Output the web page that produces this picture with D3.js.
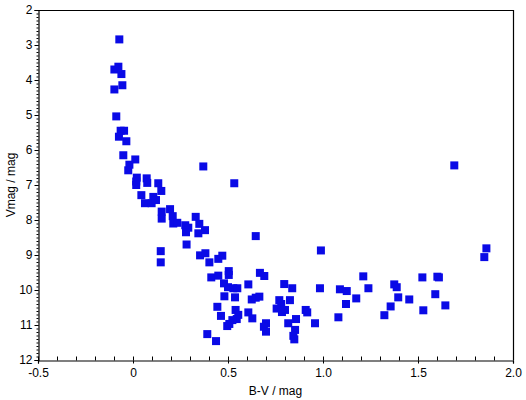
<!DOCTYPE html>
<html>
<head>
<meta charset="utf-8">
<script src="https://cdn.jsdelivr.net/npm/d3@7"></script>
<style>
  html, body { margin: 0; padding: 0; background: #fff; }
  svg { display: block; }
  text { font-family: "Liberation Sans", Arial, sans-serif; fill: #000; }
</style>
</head>
<body>
<script>
// ---- data (B-V colour index, V magnitude) ----
const bv = [
  -0.072, -0.077, -0.098, -0.061, -0.056, -0.098, -0.088, -0.065, -0.047, -0.074,
  -0.035, -0.051, 0.012, -0.019, -0.025, 0.020, 0.017, 0.017, 0.072, 0.075,
  0.133, 0.149, 0.370, 0.533, 0.044, 0.107, 0.063, 0.098, 0.121, 0.151,
  0.151, 0.195, 0.209, 0.212, 0.233, 0.275, 0.291, 0.279, 0.330, 0.349,
  0.344, 0.379, 0.282, 0.146, 0.146, 0.353, 0.381, 0.402, 0.449, 0.470,
  0.504, 0.504, 0.412, 0.449, 0.646, 0.989, 0.479, 0.500, 0.528, 0.549,
  0.607, 0.668, 0.691, 0.481, 0.537, 0.625, 0.646, 0.665, 0.444, 0.540,
  0.607, 0.463, 0.554, 0.546, 0.523, 0.628, 0.496, 0.507, 0.391, 0.437,
  0.796, 0.838, 0.984, 1.089, 1.125, 1.121, 0.770, 0.780, 0.826, 0.756,
  0.784, 0.800, 0.909, 0.917, 0.858, 0.817, 0.958, 1.081, 0.700, 0.689,
  0.700, 0.853, 0.844, 0.849, 1.212, 1.239, 1.175, 1.323, 1.356, 1.375,
  1.388, 1.396, 1.454, 1.523, 1.528, 1.591, 1.602, 1.610, 1.644, 1.849,
  1.860, 1.691
];
const vmag = [
  2.84, 3.62, 3.70, 3.83, 4.15, 4.27, 5.04, 5.45, 5.45, 5.62,
  5.75, 6.15, 6.27, 6.42, 6.58, 6.79, 6.90, 7.00, 6.81, 6.94,
  6.95, 7.17, 6.47, 6.95, 7.29, 7.34, 7.52, 7.52, 7.43, 7.76,
  7.96, 7.69, 7.89, 8.10, 8.08, 8.15, 8.22, 8.35, 7.91, 8.11,
  8.38, 8.29, 8.70, 8.89, 9.21, 9.01, 8.95, 9.21, 9.11, 9.02,
  9.46, 9.57, 9.64, 9.59, 8.46, 8.87, 9.81, 9.92, 9.95, 9.95,
  9.84, 9.51, 9.60, 10.18, 10.21, 10.27, 10.22, 10.19, 10.48, 10.57,
  10.64, 10.74, 10.71, 10.83, 10.86, 10.81, 11.03, 10.97, 11.26, 11.46,
  9.83, 9.95, 9.95, 9.98, 10.03, 10.40, 10.29, 10.40, 10.29, 10.53,
  10.63, 10.57, 10.57, 10.64, 10.83, 10.95, 10.95, 10.78, 10.95, 11.05,
  11.19, 11.14, 11.31, 11.41, 9.61, 9.95, 10.24, 10.72, 10.47, 9.84,
  9.92, 10.21, 10.27, 9.64, 10.58, 10.12, 9.62, 9.64, 10.44, 9.06,
  8.81, 6.44
];
const xTickLabels = ["-0.5", "0", "0.5", "1.0", "1.5", "2.0"];
const yTickLabels = ["2", "3", "4", "5", "6", "7", "8", "9", "10", "11", "12"];
const xLabel = "B-V / mag";
const yLabel = "Vmag / mag";

// ---- layout ----
const W = 526, H = 400;
const L = 38, R = 513, T = 10, B = 360;
const svg = d3.select("body").append("svg").attr("width", W).attr("height", H);

const x = d3.scaleLinear().domain([-0.5, 2.0]).range([L, R]);
const y = d3.scaleLinear().domain([2, 12]).range([T, B]);

const xMajor = xTickLabels.map(Number);
const yMajor = yTickLabels.map(Number);
const xMinor = d3.range(-5, 21).map(i => i / 10);
const yMinor = d3.range(20, 121).map(i => i / 10);

// frame (top and right)
svg.append("line").attr("x1", L).attr("x2", R).attr("y1", T + 0.5).attr("y2", T + 0.5)
  .attr("stroke", "#000").attr("stroke-width", 1.2);
svg.append("line").attr("x1", R + 0.5).attr("x2", R + 0.5).attr("y1", T).attr("y2", B)
  .attr("stroke", "#000").attr("stroke-width", 1.2);

// x axis
const gx = svg.append("g").attr("transform", `translate(0,${B + 0.5})`);
gx.append("g").call(d3.axisTop(x).tickValues(xMinor).tickSize(4).tickFormat(""))
  .call(g => g.select(".domain").remove())
  .call(g => g.selectAll("line").attr("stroke", "#000"));
gx.append("g").call(d3.axisBottom(x).tickValues(xMajor).tickSize(3).tickPadding(5)
    .tickFormat((d, i) => xTickLabels[i]))
  .call(g => g.select(".domain").attr("stroke", "#000").attr("stroke-width", 1.2))
  .call(g => g.selectAll("line").attr("stroke", "#000"))
  .call(g => g.selectAll("text").style("font-size", "12px").attr("fill", "#000")
    .style("font-family", "'Liberation Sans', Arial, sans-serif"));

// y axis
const gy = svg.append("g").attr("transform", `translate(${L + 0.5},0)`);
gy.append("g").call(d3.axisLeft(y).tickValues(yMinor).tickSize(2).tickFormat(""))
  .call(g => g.select(".domain").remove())
  .call(g => g.selectAll("line").attr("stroke", "#000"));
gy.append("g").call(d3.axisLeft(y).tickValues(yMajor).tickSize(4).tickPadding(2)
    .tickFormat((d, i) => yTickLabels[i]))
  .call(g => g.select(".domain").attr("stroke", "#000").attr("stroke-width", 1.2))
  .call(g => g.selectAll("line").attr("stroke", "#000"))
  .call(g => g.selectAll("text").style("font-size", "12px").attr("fill", "#000")
    .style("font-family", "'Liberation Sans', Arial, sans-serif"));

// axis titles
svg.append("text").attr("x", (L + R) / 2).attr("y", 395)
  .attr("text-anchor", "middle").style("font-size", "12px").text(xLabel);
svg.append("text").attr("transform", `translate(15,${(T + B) / 2}) rotate(-90)`)
  .attr("text-anchor", "middle").style("font-size", "12px").text(yLabel);

// points
const pts = bv.map((d, i) => [d, vmag[i]]);
const s = 8;
svg.append("g").selectAll("rect").data(pts).join("rect")
  .attr("x", d => x(d[0]) - s / 2)
  .attr("y", d => y(d[1]) - s / 2)
  .attr("width", s).attr("height", s)
  .attr("fill", "#0a0ae6");
</script>
</body>
</html>
